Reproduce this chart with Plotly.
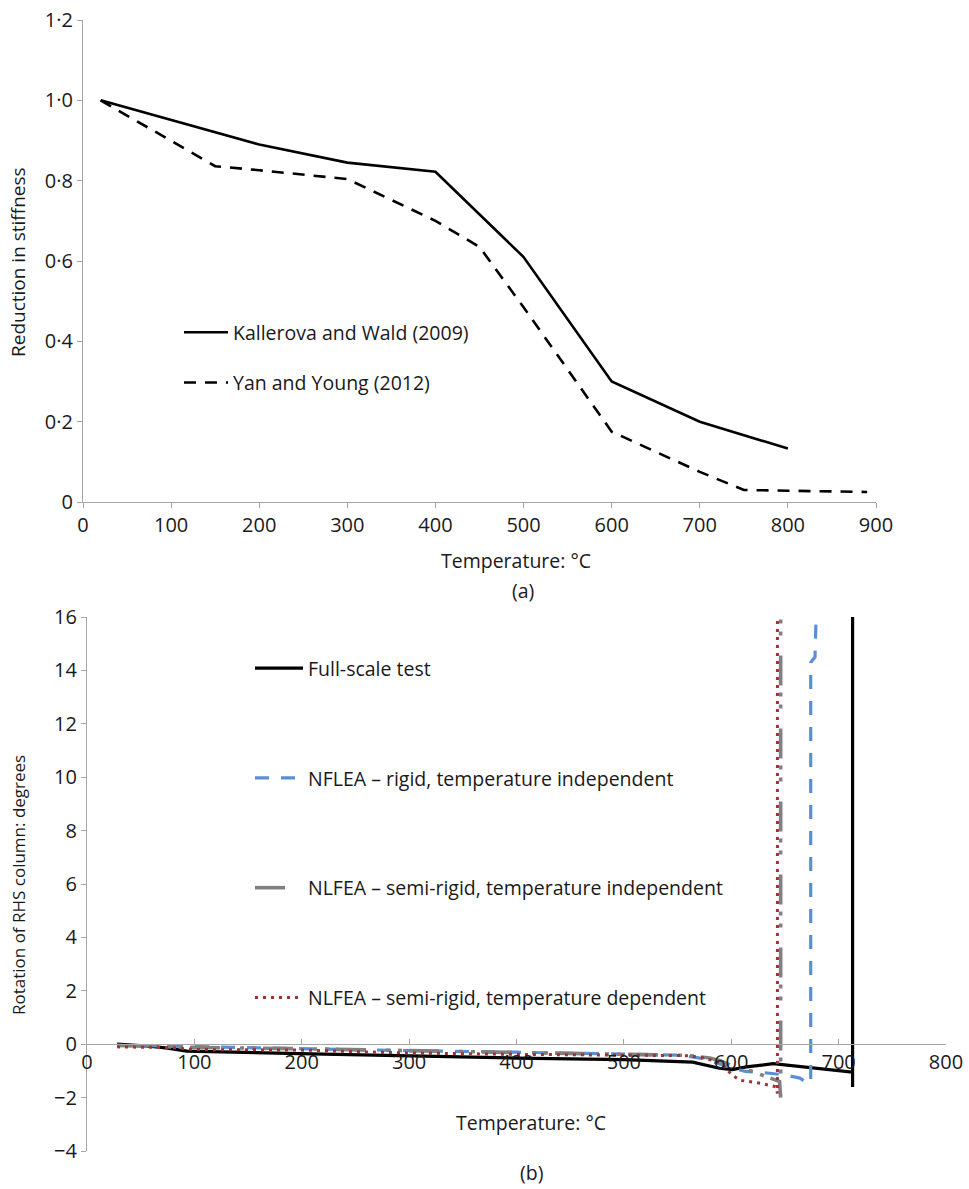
import plotly.graph_objects as go

W, H = 969, 1189

# ---- (a) stiffness reduction ----
temp_kw = [20, 200, 300, 400, 500, 600, 700, 800]
stiff_kw = [1.0, 0.89, 0.845, 0.822, 0.61, 0.30, 0.20, 0.133]

temp_yy = [20, 150, 200, 300, 400, 450, 500, 600, 700, 750, 800, 890]
stiff_yy = [1.0, 0.836, 0.826, 0.804, 0.70, 0.635, 0.485, 0.175, 0.075, 0.03, 0.028, 0.025]

a_yticks = [0, 0.2, 0.4, 0.6, 0.8, 1.0, 1.2]
a_yticklabels = ["0", "0·2", "0·4", "0·6", "0·8", "1·0", "1·2"]

# ---- (b) column rotation ----
temp_full = [28, 60, 75, 93, 198, 291, 400, 500, 550, 564, 589, 601, 614, 639, 713, 713, 713]
rot_full = [0.0, -0.08, -0.15, -0.26, -0.35, -0.44, -0.52, -0.58, -0.63, -0.67, -0.9, -0.95,
            -0.85, -0.73, -1.05, -1.6, 16]

temp_rigid = [28, 100, 200, 300, 400, 500, 552, 571, 590, 602, 613, 627, 650, 664, 671, 674,
              674, 678, 679]
rot_rigid = [-0.04, -0.1, -0.17, -0.24, -0.3, -0.38, -0.41, -0.52, -0.75, -0.9, -1.02, -1.05,
             -1.15, -1.27, -1.46, -1.46, 14.3, 14.5, 16]

temp_semi_ind = [28, 100, 200, 300, 400, 500, 560, 580, 590, 600, 615, 636, 645, 646, 646]
rot_semi_ind = [-0.05, -0.12, -0.17, -0.25, -0.32, -0.38, -0.42, -0.52, -0.62, -0.8, -0.95,
                -1.27, -1.4, -2.0, 16]

temp_semi_dep = [28, 80, 100, 200, 260, 300, 400, 500, 560, 575, 590, 601, 608, 627, 642,
                 643, 643]
rot_semi_dep = [-0.1, -0.13, -0.2, -0.22, -0.29, -0.33, -0.38, -0.41, -0.43, -0.52, -0.7,
                -1.16, -1.35, -1.46, -1.6, -1.85, 16]

b_yticks = [-4, -2, 0, 2, 4, 6, 8, 10, 12, 14, 16]
b_yticklabels = ["−4", "−2", "0", "2", "4", "6", "8", "10", "12", "14", "16"]

FONT = "Open Sans"
TXT = "#1a1a1a"
AXC = "#a6a6a6"
TEXT_SIZE = 19.5
TICK_SIZE = 20


def px_x(x):
    return x / W


def px_y(y):
    return 1 - y / H


fig = go.Figure()

fig.add_trace(go.Scatter(x=temp_kw, y=stiff_kw, mode="lines", name="Kallerova and Wald (2009)",
                         line=dict(color="black", width=2.6), xaxis="x", yaxis="y",
                         legend="legend", legendgroup="a1"))
fig.add_trace(go.Scatter(x=temp_yy, y=stiff_yy, mode="lines", name="Yan and Young (2012)",
                         line=dict(color="black", width=2.6, dash="12px,9px"), xaxis="x", yaxis="y",
                         legend="legend", legendgroup="a2"))

fig.add_trace(go.Scatter(x=temp_full, y=rot_full, mode="lines", name="Full-scale test",
                         line=dict(color="black", width=3.2), xaxis="x2", yaxis="y2",
                         legend="legend2", legendgroup="b1"))
fig.add_trace(go.Scatter(x=temp_rigid, y=rot_rigid, mode="lines",
                         name="NFLEA – rigid, temperature independent",
                         line=dict(color="#5a8fd8", width=3.2, dash="14px,12px"), xaxis="x2", yaxis="y2",
                         legend="legend2", legendgroup="b2"))
fig.add_trace(go.Scatter(x=temp_semi_ind, y=rot_semi_ind, mode="lines",
                         name="NLFEA – semi-rigid, temperature independent",
                         line=dict(color="#808080", width=3.6, dash="30px,20px,4px,8px,4px,7px"),
                         xaxis="x2", yaxis="y2", legend="legend2", legendgroup="b3"))
fig.add_trace(go.Scatter(x=temp_semi_dep, y=rot_semi_dep, mode="lines",
                         name="NLFEA – semi-rigid, temperature dependent",
                         line=dict(color="#9c3434", width=3.0, dash="3px,5px"),
                         xaxis="x2", yaxis="y2", legend="legend2", legendgroup="b4"))

tickfont = dict(family=FONT, size=TICK_SIZE, color=TXT)

# domains (paper fractions) of both panels
a_x = [px_x(83), px_x(876)]
a_y = [px_y(502), px_y(20)]
b_x = [px_x(87), px_x(946)]
b_y = [px_y(1151), px_y(617)]
b_zero = b_y[0] + (0 - (-4)) / 20 * (b_y[1] - b_y[0])

axis_common = dict(showline=True, linecolor=AXC, linewidth=1.3, ticklen=5, tickcolor=AXC,
                   showgrid=False, zeroline=False, tickfont=tickfont, automargin=False)

fig.update_layout(
    width=W, height=H,
    margin=dict(l=0, r=0, t=0, b=0),
    paper_bgcolor="white", plot_bgcolor="white",
    font=dict(family=FONT, size=TEXT_SIZE, color=TXT),
    xaxis=dict(domain=a_x, anchor="y", range=[0, 900], tickvals=list(range(0, 901, 100)),
               ticks="outside", **axis_common),
    yaxis=dict(domain=a_y, anchor="x", range=[0, 1.2], tickvals=a_yticks, ticktext=a_yticklabels,
               ticks="outside", **axis_common),
    xaxis2=dict(domain=b_x, anchor="free", position=b_zero, range=[0, 800],
                tickvals=list(range(0, 801, 100)), ticks="inside", **axis_common),
    yaxis2=dict(domain=b_y, anchor="x2", range=[-4, 16], tickvals=b_yticks, ticktext=b_yticklabels,
                ticks="outside", **axis_common),
    legend=dict(x=px_x(179), y=px_y(313), xanchor="left", yanchor="top",
                bgcolor="rgba(0,0,0,0)", font=dict(family=FONT, size=TEXT_SIZE, color=TXT),
                tracegroupgap=22, itemwidth=44, traceorder="grouped"),
    legend2=dict(x=px_x(250), y=px_y(649), xanchor="left", yanchor="top",
                 bgcolor="rgba(0,0,0,0)", font=dict(family=FONT, size=TEXT_SIZE, color=TXT),
                 tracegroupgap=81.4, itemwidth=48, traceorder="grouped"),
    showlegend=True,
)

ann = [
    dict(text="Reduction in stiffness", x=px_x(18), y=px_y(262), textangle=-90, size=19),
    dict(text="Temperature: °C", x=px_x(516), y=px_y(560), size=TEXT_SIZE),
    dict(text="(a)", x=px_x(523), y=px_y(590), size=TEXT_SIZE),
    dict(text="Rotation of RHS column: degrees", x=px_x(18), y=px_y(885), textangle=-90, size=17),
    dict(text="Temperature: °C", x=px_x(531), y=px_y(1122), size=TEXT_SIZE),
    dict(text="(b)", x=px_x(531), y=px_y(1172), size=TEXT_SIZE),
]
for a in ann:
    size = a.pop("size")
    fig.add_annotation(xref="paper", yref="paper", showarrow=False, xanchor="center",
                       yanchor="middle", font=dict(family=FONT, size=size, color=TXT), **a)

fig.write_html("out.html")
